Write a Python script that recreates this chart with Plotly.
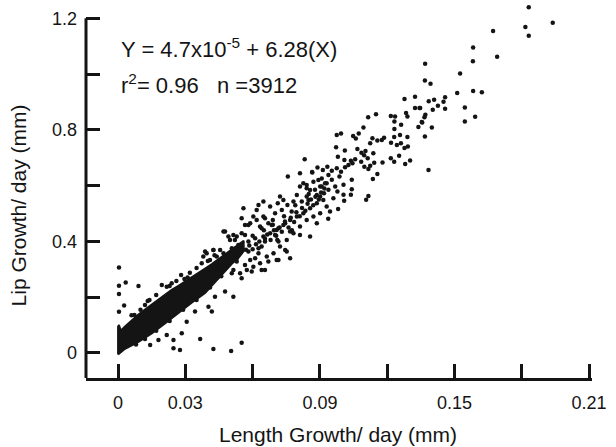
import plotly.graph_objects as go

# Dense core of the cloud (outline)
blob_x = [0.0, 0.0, 0.0004, 0.0012, 0.0031, 0.0061, 0.0091, 0.0120, 0.0150, 0.0180,
          0.0209, 0.0239, 0.0269, 0.0299, 0.0328, 0.0358, 0.0388, 0.0418, 0.0447, 0.0477,
          0.0507, 0.0536, 0.0560, 0.0560, 0.0536, 0.0507, 0.0447, 0.0388, 0.0328, 0.0269,
          0.0209, 0.0150, 0.0091, 0.0031, 0.0]
blob_y = [-0.005, 0.0944, 0.1004, 0.0800, 0.0950, 0.1180, 0.1380, 0.1560, 0.1740, 0.1920,
          0.2100, 0.2260, 0.2410, 0.2560, 0.2720, 0.2880, 0.3030, 0.3190, 0.3360, 0.3530,
          0.3700, 0.3880, 0.4020, 0.3650, 0.3400, 0.3200, 0.2680, 0.2150, 0.1800, 0.1420,
          0.1060, 0.0700, 0.0400, 0.0150, -0.005]

# Individually visible points: (length growth, lip growth)
upper_pts = [(0.1831,1.240),(0.1938,1.184),(0.1816,1.169),(0.1831,1.137),(0.1672,1.154),(0.1583,1.095),
    (0.1582,1.046),(0.1690,1.062),(0.1369,1.037),(0.1525,1.002),(0.1368,0.977),(0.1393,0.965),
    (0.1512,0.932),(0.1583,0.939),(0.1622,0.935),(0.1458,0.917),(0.1409,0.908),(0.1385,0.903),
    (0.1451,0.901),(0.1426,0.886),(0.1403,0.872),(0.1458,0.876),(0.1546,0.880),(0.1347,0.878),
    (0.1370,0.854),(0.1366,0.845),(0.1592,0.847),(0.1546,0.830),(0.1356,0.826),(0.1399,0.808)]

mid_upper_pts = [(0.1277,0.911),(0.1324,0.919),(0.1324,0.878),(0.1344,0.878),(0.1284,0.860),(0.1290,0.848),
    (0.1354,0.828),(0.1339,0.810),(0.1368,0.776),(0.1150,0.856),(0.1115,0.845),(0.1216,0.850),
    (0.1235,0.848),(0.1232,0.830),(0.1262,0.818),(0.1094,0.808),(0.1232,0.803),(0.0975,0.782),
    (0.0994,0.787),(0.1048,0.778),(0.1060,0.769),(0.1073,0.787),(0.1134,0.770),(0.1156,0.762),
    (0.1176,0.764),(0.1186,0.772),(0.1231,0.774),(0.1257,0.782),(0.1290,0.774),(0.1124,0.752),
    (0.1217,0.754),(0.1243,0.746),(0.1261,0.752),(0.1277,0.735),(0.1292,0.740),(0.0972,0.738),
    (0.1011,0.726),(0.1067,0.731),(0.1085,0.718),(0.1103,0.724),(0.1097,0.709),(0.1113,0.698),
    (0.1138,0.716),(0.1216,0.698),(0.1231,0.686),(0.1253,0.707),(0.1280,0.678),(0.1302,0.690),
    (0.0980,0.704),(0.0832,0.695),(0.1009,0.692),(0.1038,0.689),(0.1057,0.695),(0.1084,0.686),
    (0.1098,0.668),(0.1116,0.660),(0.1124,0.671),(0.1142,0.682),(0.1179,0.683),(0.1136,0.624),
    (0.1156,0.642),(0.1384,0.656),(0.0865,0.649),(0.0889,0.665),(0.0913,0.656),(0.0933,0.668),
    (0.0953,0.653),(0.0975,0.662),(0.0994,0.650),(0.1012,0.666),(0.1027,0.674),(0.1045,0.680),
    (0.1042,0.621),(0.1042,0.587),(0.1038,0.567),(0.1116,0.563),(0.1106,0.549),(0.0826,0.609),
    (0.0841,0.591),(0.0871,0.614),(0.0878,0.585),(0.0901,0.597),(0.0908,0.626),(0.0923,0.609),
    (0.0938,0.585),(0.0953,0.621),(0.0968,0.597),(0.0978,0.579),(0.0987,0.633),(0.1005,0.603),
    (0.1005,0.567),(0.0960,0.555),(0.0901,0.561),(0.0841,0.561),(0.0981,0.5165),(0.1008,0.546),
    (0.0937,0.481),(0.0945,0.507)]

mid_pts = [(0.0757,0.6325),(0.0811,0.6444),(0.0866,0.6468),(0.0893,0.6205),(0.0908,0.5966),(0.0930,0.6086),
    (0.0938,0.6385),(0.0918,0.5727),(0.0886,0.5667),(0.0856,0.5847),(0.0841,0.6026),(0.0811,0.5966),
    (0.0797,0.5667),(0.0782,0.5428),(0.0755,0.5309),(0.0737,0.5488),(0.0722,0.5607),(0.0712,0.5368),
    (0.0730,0.5129),(0.0700,0.5010),(0.0690,0.4771),(0.0670,0.4651),(0.0648,0.4890),(0.0633,0.4531),
    (0.0626,0.5309),(0.0618,0.5129),(0.0603,0.4890),(0.0589,0.4651),(0.0566,0.4591),(0.0559,0.5189),
    (0.0551,0.4292),(0.0529,0.4173),(0.0514,0.4232),(0.0499,0.4053),(0.0477,0.4352),(0.0455,0.3694),
    (0.0425,0.3694),(0.0395,0.3575),(0.0380,0.3455),(0.0373,0.3216),(0.0410,0.3336),(0.0440,0.3455),
    (0.0470,0.3575),(0.0507,0.3754),(0.0544,0.3874),(0.0581,0.3993),(0.0611,0.4113),(0.0648,0.4173),
    (0.0678,0.4292),(0.0707,0.4412),(0.0737,0.4591),(0.0767,0.4771),(0.0797,0.4890),(0.0826,0.5010),
    (0.0856,0.5189),(0.0886,0.5368),(0.0915,0.5488),(0.0930,0.5249),(0.0901,0.5010),(0.0871,0.4890),
    (0.0841,0.4771),(0.0811,0.4531),(0.0782,0.4292),(0.0752,0.4053),(0.0722,0.3814),(0.0693,0.3575),
    (0.0663,0.3455),(0.0633,0.3216),(0.0603,0.3096),(0.0574,0.2977),(0.0544,0.2857),(0.0514,0.2977),
    (0.0485,0.3216),(0.0455,0.3096),(0.0425,0.2977),(0.0395,0.2857),(0.0707,0.3336),(0.0767,0.3395),
    (0.0811,0.4232),(0.0856,0.4173),(0.0886,0.4651),(0.0715,0.3993),(0.0745,0.3694),(0.0626,0.3575),
    (0.0655,0.2977),(0.0589,0.3336),(0.0529,0.3276),(0.0678,0.5249),(0.0648,0.5428),(0.0774,0.5070),
    (0.0819,0.5428),(0.0849,0.5488),
    # densest stretch of the band (estimated)
    (0.0570,0.3700),(0.0585,0.3850),(0.0600,0.3720),(0.0615,0.3900),(0.0630,0.4000),(0.0640,0.3820),
    (0.0655,0.4100),(0.0665,0.4250),(0.0680,0.4050),(0.0695,0.4400),(0.0705,0.4200),(0.0720,0.4500),
    (0.0730,0.4350),(0.0745,0.4650),(0.0760,0.4500),(0.0770,0.4850),(0.0785,0.4700),(0.0795,0.5050),
    (0.0810,0.4900),(0.0820,0.5200),(0.0835,0.5100),(0.0845,0.5350),(0.0860,0.5500),(0.0870,0.5300),
    (0.0880,0.5600),(0.0895,0.5500),(0.0905,0.5750),(0.0920,0.5900),(0.0690,0.4600),(0.0740,0.4900),
    (0.0790,0.5300),(0.0850,0.5700),(0.0600,0.4200),(0.0650,0.4400),(0.0710,0.4050),(0.0775,0.4400)]

low_pts = [(0.0004,0.3061),(0.0004,0.2415),(0.0004,0.2116),(0.0034,0.2523),(0.0091,0.2403),(0.0004,0.1482),
    (0.0027,0.1698),(0.0073,0.1363),(0.0132,0.1865),(0.0120,0.1722),(0.0195,0.2439),(0.0217,0.2379),
    (0.0239,0.2499),(0.0281,0.2798),(0.0296,0.2654),(0.0310,0.2702),(0.0388,0.3635),(0.0425,0.3694),
    (0.0470,0.4352),(0.0492,0.4173),(0.0551,0.4830),(0.0521,0.4053),(0.0536,0.3874),(0.0566,0.4233),
    (0.0581,0.4591),(0.0618,0.4771),(0.0640,0.4472),(0.0655,0.4830),(0.0685,0.4591),(0.0700,0.4233),
    (0.0715,0.4472),(0.0744,0.4711),(0.0767,0.4352),(0.0752,0.3635),(0.0715,0.3336),(0.0670,0.3276),
    (0.0640,0.2977),(0.0596,0.2917),(0.0566,0.3156),(0.0611,0.3396),(0.0551,0.2678),(0.0514,0.2020),
    (0.0477,0.2200),(0.0432,0.2020),(0.0418,0.1483),(0.0403,0.1662),(0.0343,0.1483),(0.0306,0.1124),
    (0.0284,0.0705),(0.0247,0.0466),(0.0217,0.0646),(0.0180,0.0466),(0.0143,0.0287),(0.0366,0.0502),
    (0.0551,0.0370),(0.0425,0.0143),(0.0504,0.0072),(0.0276,0.0107),(0.0247,0.0167),(0.0626,0.3755),
    (0.0655,0.3994),(0.0581,0.3635),(0.0529,0.3396),(0.0477,0.3037),(0.0507,0.2858),
    # ragged edges of the dense core (estimated)
    (0.0060,0.1350),(0.0100,0.1550),(0.0140,0.1900),(0.0170,0.2080),(0.0230,0.2400),(0.0260,0.2580),
    (0.0320,0.2880),(0.0350,0.3050),(0.0400,0.3300),(0.0430,0.3500),(0.0080,0.0300),(0.0120,0.0500),
    (0.0170,0.0800),(0.0230,0.1150),(0.0290,0.1550),(0.0350,0.1900),(0.0410,0.2350),(0.0460,0.2750)]

points = upper_pts + mid_upper_pts + mid_pts + low_pts
length_growth = [p[0] for p in points]
lip_growth = [p[1] for p in points]

x_ticks = [0, 0.03, 0.06, 0.09, 0.12, 0.15, 0.18, 0.21]
x_labels = ["0", "0.03", "", "0.09", "", "0.15", "", "0.21"]
y_ticks = [0, 0.2, 0.4, 0.6, 0.8, 1.0, 1.2]
y_labels = ["0", "", "0.4", "", "0.8", "", "1.2"]
x_range = [-0.0143, 0.2113]
y_range = [-0.0897, 1.262]

FONT = "Liberation Sans, Arial, sans-serif"
INK = "#141414"

fig = go.Figure()
fig.add_trace(go.Scatter(x=blob_x, y=blob_y, mode="lines", fill="toself",
                         fillcolor=INK, line=dict(color=INK, width=2),
                         hoverinfo="skip", showlegend=False))
fig.add_trace(go.Scatter(x=length_growth, y=lip_growth, mode="markers",
                         marker=dict(size=4.5, color=INK),
                         cliponaxis=False, showlegend=False))

axis_common = dict(ticks="inside", ticklen=14, tickwidth=3, tickcolor=INK,
                   linewidth=3, linecolor=INK, showgrid=False,
                   zeroline=False, automargin=False, tickfont=dict(size=18, color=INK))

fig.update_layout(
    template="none",
    width=616, height=447,
    margin=dict(l=86, r=24, t=1, b=69),
    paper_bgcolor="white", plot_bgcolor="white",
    font=dict(family=FONT, size=18, color=INK),
    showlegend=False,
    xaxis=dict(range=x_range, tickvals=x_ticks, ticktext=x_labels, showline=True,
               ticklabelstandoff=6, **axis_common),
    yaxis=dict(range=y_range, tickvals=y_ticks, ticktext=y_labels, showline=False,
               ticklabelstandoff=8, **axis_common),
    # y axis spine stops at the top tick (1.2), as in the original
    shapes=[dict(type="line", xref="paper", yref="y", x0=0, x1=0,
                 y0=y_range[0], y1=y_ticks[-1], line=dict(color=INK, width=3))],
    annotations=[
        dict(text="Y = 4.7x10<sup>-5</sup> + 6.28(X)", xref="paper", yref="paper",
             x=0.066, y=0.917 * 360 / 377 + 17 / 377 * 0, xanchor="left", yanchor="middle",
             showarrow=False, font=dict(size=22)),
        dict(text="r<sup>2</sup>= 0.96   n =3912", xref="paper", yref="paper",
             x=0.066, y=0.818 * 360 / 377, xanchor="left", yanchor="middle",
             showarrow=False, font=dict(size=22)),
        dict(text="Length Growth/ day (mm)", xref="paper", yref="paper",
             x=0.498, y=-0.158 * 360 / 377, xanchor="center", yanchor="middle",
             showarrow=False, font=dict(size=21)),
        dict(text="Lip Growth/ day (mm)", xref="paper", yref="paper", textangle=-90,
             x=-0.134, y=0.48 * 360 / 377, xanchor="center", yanchor="middle",
             showarrow=False, font=dict(size=21)),
    ],
)

fig.write_html("out.html", config={"displayModeBar": False},
               post_script="document.body.style.margin='0';document.body.style.overflow='hidden';")
